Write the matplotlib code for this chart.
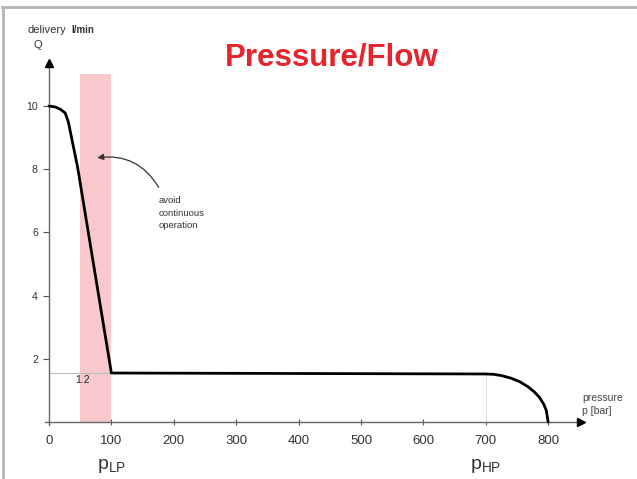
import matplotlib
matplotlib.use('Agg')
import matplotlib.pyplot as plt
from matplotlib.lines import Line2D
from matplotlib.patches import FancyArrowPatch

plt.rcParams['font.family'] = ['Liberation Sans', 'DejaVu Sans']

# pump characteristic
pressure = [0, 10, 18, 26, 31, 46, 100, 300, 500, 700, 712, 725, 740, 755, 768, 778, 786, 793, 797, 800]
flow = [10.0, 9.97, 9.9, 9.78, 9.5, 8.05, 1.55, 1.54, 1.53, 1.52, 1.51, 1.47, 1.39, 1.27, 1.11, 0.95, 0.78, 0.56, 0.37, 0.0]
band = [50, 100]
x_ticks = [0, 100, 200, 300, 400, 500, 600, 700, 800]
y_ticks = [2, 4, 6, 8, 10]
p_lp = 100
p_hp = 700
q_lp = 1.55
q_hp = 1.52

fig = plt.figure(figsize=(6.37, 4.79), dpi=100)
ax = fig.add_axes([0.0671, 0.0992, 0.8718, 0.785])
ax.set_xlim(-10, 880)
ax.set_ylim(-0.3, 11.6)

ax.axvspan(band[0], band[1], ymin=(0 + 0.3) / 11.9, ymax=(11.0 + 0.3) / 11.9, color='#f8c8cc', lw=0, zorder=1)
ax.plot([0, p_lp], [q_lp, q_lp], color='#bbbbbb', lw=0.8, zorder=2)
ax.plot([p_hp, p_hp], [0, q_hp], color='#e2e2e2', lw=0.8, zorder=2)
ax.plot(pressure, flow, color='black', lw=2, solid_capstyle='round', solid_joinstyle='round', zorder=4)

# axes through the origin with arrow heads
for s in ['top', 'right']:
  ax.spines[s].set_visible(False)
ax.spines['left'].set_position(('data', 0))
ax.spines['bottom'].set_position(('data', 0))
ax.spines['left'].set_bounds(-0.1, 11.3)
ax.spines['bottom'].set_bounds(-7, 845)
for s in ['left', 'bottom']:
  ax.spines[s].set_color('#666666')
  ax.spines[s].set_linewidth(1)
ax.plot([0], [11.35], marker='^', color='black', markersize=6, clip_on=False, zorder=5)
ax.plot([852], [0], marker='>', color='black', markersize=6, clip_on=False, zorder=5)

ax.set_xticks(x_ticks)
ax.set_xticklabels([str(v) for v in x_ticks], fontsize=9.5, color='#333333')
ax.set_yticks(y_ticks)
ax.set_yticklabels([str(v) for v in y_ticks], fontsize=7.5, color='#333333')
ax.tick_params(axis='x', direction='inout', length=5, color='#555555', pad=7)
ax.tick_params(axis='y', direction='out', length=4, color='#555555', pad=4)

ax.text(53, 1.33, '1.2', fontsize=7.5, color='#222222', ha='center', va='center')
ax.text(p_lp, -1.4, r'$\mathregular{p_{LP}}$', fontsize=14, color='#333333', ha='center', va='center')
ax.text(p_hp, -1.4, r'$\mathregular{p_{HP}}$', fontsize=14, color='#333333', ha='center', va='center')
ax.text(855, 0.55, 'pressure\np [bar]', fontsize=7.5, color='#444444', ha='left', va='center', linespacing=1.3)
ax.text(175, 6.6, 'avoid\ncontinuous\noperation', fontsize=6.8, color='#333333', ha='left', va='center', linespacing=1.5)
arr = FancyArrowPatch((178, 7.35), (73, 8.35), connectionstyle='arc3,rad=0.35', arrowstyle='-|>', mutation_scale=9, color='#333333', lw=0.9, zorder=5)
ax.add_patch(arr)

fig.text(27 / 637, 1 - 33 / 479, 'delivery', fontsize=8, color='#333333', ha='left', va='baseline')
fig.text(71 / 637, 1 - 33 / 479, 'l/min', fontsize=7, fontweight='bold', color='#333333', ha='left', va='baseline')
fig.text(38 / 637, 1 - 45 / 479, 'Q', fontsize=8, color='#333333', ha='center', va='center')
fig.text(332 / 637, 1 - 58 / 479, 'Pressure/Flow', fontsize=22.5, fontweight='bold', color='#e8232b', ha='center', va='center')

# thin frame at the top and left of the image
fig.add_artist(Line2D([0.003, 1], [1 - 6.5 / 479, 1 - 6.5 / 479], color='#b5b5b5', lw=2, transform=fig.transFigure))
fig.add_artist(Line2D([0.004, 0.004], [0, 1 - 6.5 / 479], color='#b5b5b5', lw=2, transform=fig.transFigure))

plt.savefig('out.png', dpi=100)
